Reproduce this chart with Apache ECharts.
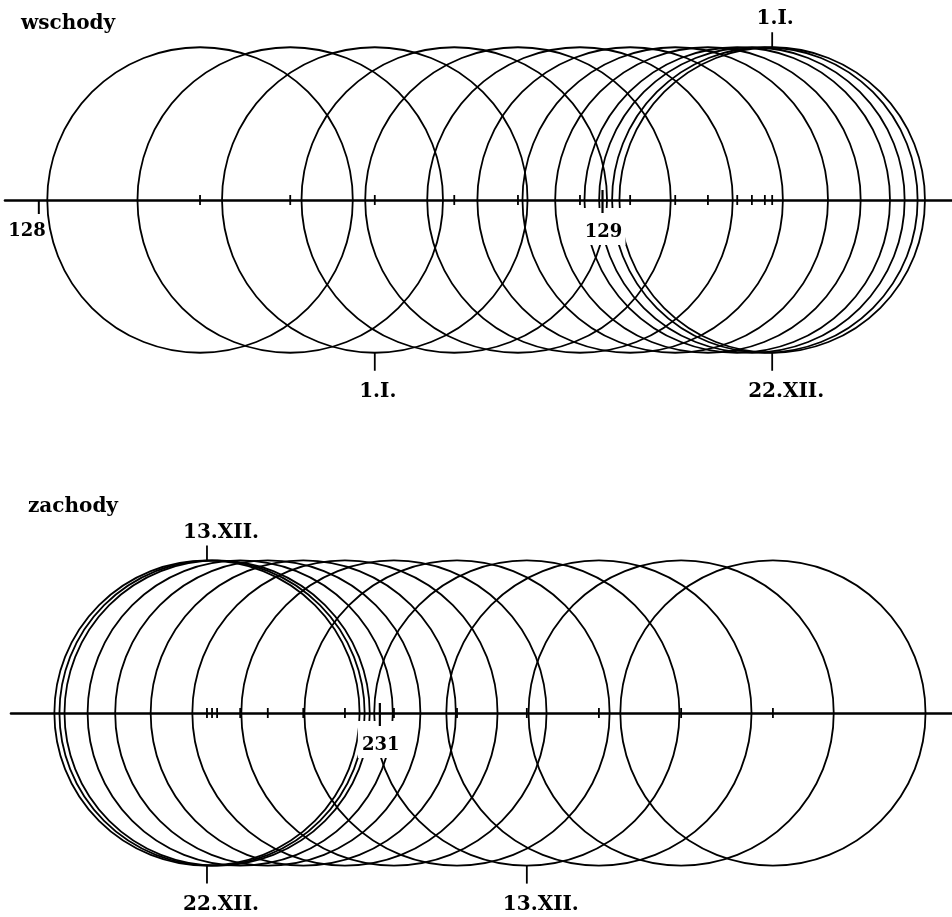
<!DOCTYPE html>
<html>
<head>
<meta charset="utf-8">
<title>wschody i zachody</title>
<script src="https://cdn.jsdelivr.net/npm/echarts@6/dist/echarts.min.js"></script>
<style>
  html, body { margin: 0; padding: 0; background: #fff; }
  #chart { width: 952px; height: 917px; }
</style>
</head>
<body>
<div id="chart"></div>
<script>
// promien tarczy Slonca (stopnie azymutu)
const sunRadius = 0.271;

// azymuty srodkow tarczy - wschody
const sunriseAzimuths = [128.286, 128.446, 128.596, 128.737, 128.850, 128.960, 129.049,
  129.129, 129.187, 129.239, 129.265, 129.288, 129.301];
// azymuty srodkow tarczy - zachody
const sunsetAzimuths = [230.693, 230.702, 230.711, 230.752, 230.801, 230.864, 230.938,
  231.025, 231.137, 231.261, 231.389, 231.535, 231.698];

// opisane stopnie na osi
const sunriseAxisValues = [128, 129];
const sunsetAxisValues = [231];

// daty przy tarczach
const sunriseDatesAbove = ['1.I.'];
const sunriseDatesAboveAz = [129.301];
const sunriseDatesBelow = ['22.XII.', '1.I.'];
const sunriseDatesBelowAz = [129.301, 128.596];
const sunsetDatesAbove = ['13.XII.'];
const sunsetDatesAboveAz = [230.693];
const sunsetDatesBelow = ['22.XII.', '13.XII.'];
const sunsetDatesBelowAz = [230.693, 231.261];

const INK = '#000';
const FONT_BIG = 'bold 20px "DejaVu Serif"';
const FONT_NUM = 'bold 18px "DejaVu Serif"';
const LW = 1.8;

const chart = echarts.init(document.getElementById('chart'));

function circleItem(params, api) {
  const c = api.coord([api.value(0), 0]);
  const r = api.size([sunRadius, 0])[0];
  return {
    type: 'group',
    children: [
      { type: 'circle', shape: { cx: c[0], cy: c[1], r: r },
        style: { fill: 'none', stroke: INK, lineWidth: LW } },
      { type: 'line', shape: { x1: c[0], y1: c[1] - 5, x2: c[0], y2: c[1] + 5 },
        style: { stroke: INK, lineWidth: LW } }
    ]
  };
}

function axisNumberItem(params, api) {
  const c = api.coord([api.value(0), 0]);
  const text = String(api.value(0));
  // stopien na poczatku osi - kreska tylko w dol, opis z lewej
  if (c[0] - params.coordSys.x < 60) {
    return {
      type: 'group',
      children: [
        { type: 'line', shape: { x1: c[0], y1: c[1], x2: c[0], y2: c[1] + 14 },
          style: { stroke: INK, lineWidth: 2 } },
        { type: 'text', x: c[0] + 7, y: c[1] + 31,
          style: { text: text, font: FONT_NUM, fill: INK, align: 'right', verticalAlign: 'middle' } }
      ]
    };
  }
  return {
    type: 'group',
    children: [
      { type: 'rect', shape: { x: c[0] - 22, y: c[1] + 8, width: 45, height: 37 },
        style: { fill: '#fff' } },
      { type: 'line', shape: { x1: c[0], y1: c[1] - 10, x2: c[0], y2: c[1] + 13 },
        style: { stroke: INK, lineWidth: 2.2 } },
      { type: 'text', x: c[0] + 1, y: c[1] + 32,
        style: { text: text, font: FONT_NUM, fill: INK, align: 'center', verticalAlign: 'middle' } }
    ]
  };
}

function makeDateItem(labels, side) {
  return function (params, api) {
    const c = api.coord([api.value(0), 0]);
    const r = api.size([sunRadius, 0])[0];
    const text = labels[params.dataIndex];
    const dir = side === 'above' ? -1 : 1;
    const y0 = c[1] + dir * r;
    const shift = text.indexOf('XII') >= 0 ? 14 : 3;
    return {
      type: 'group',
      children: [
        { type: 'line', shape: { x1: c[0], y1: y0, x2: c[0], y2: y0 + dir * (side === 'above' ? 15 : 18) },
          style: { stroke: INK, lineWidth: LW } },
        { type: 'text', x: c[0] + shift, y: y0 + dir * (side === 'above' ? 28 : 39),
          style: { text: text, font: FONT_BIG, fill: INK, align: 'center', verticalAlign: 'middle' } }
      ]
    };
  };
}

function pairs(arr) {
  return arr.map(function (v) { return [v, 0]; });
}

function customSeries(idx, data, renderItem, z) {
  return {
    type: 'custom',
    xAxisIndex: idx,
    yAxisIndex: idx,
    data: data,
    renderItem: renderItem,
    z: z,
    silent: true,
    animation: false
  };
}

const axisCommon = {
  type: 'value',
  axisLine: { onZero: true, lineStyle: { color: INK, width: 2.6 } },
  axisTick: { show: false },
  axisLabel: { show: false },
  splitLine: { show: false }
};

chart.setOption({
  backgroundColor: '#fff',
  animation: false,
  title: [
    { text: 'wschody', left: 16, top: 9,
      textStyle: { fontFamily: 'DejaVu Serif', fontWeight: 'bold', fontSize: 20, color: INK } },
    { text: 'zachody', left: 23, top: 492,
      textStyle: { fontFamily: 'DejaVu Serif', fontWeight: 'bold', fontSize: 20, color: INK } }
  ],
  grid: [
    { left: 5, right: 0, top: 30, height: 340 },
    { left: 11, right: 0, top: 543, height: 340 }
  ],
  xAxis: [
    Object.assign({ gridIndex: 0, min: 127.94, max: 129.62 }, axisCommon),
    Object.assign({ gridIndex: 1, min: 230.345, max: 232.016 }, axisCommon)
  ],
  yAxis: [
    { gridIndex: 0, type: 'value', min: -1, max: 1, show: false },
    { gridIndex: 1, type: 'value', min: -1, max: 1, show: false }
  ],
  series: [
    customSeries(0, pairs(sunriseAzimuths), circleItem, 2),
    customSeries(1, pairs(sunsetAzimuths), circleItem, 2),
    customSeries(0, pairs(sunriseAxisValues), axisNumberItem, 4),
    customSeries(1, pairs(sunsetAxisValues), axisNumberItem, 4),
    customSeries(0, pairs(sunriseDatesAboveAz), makeDateItem(sunriseDatesAbove, 'above'), 4),
    customSeries(0, pairs(sunriseDatesBelowAz), makeDateItem(sunriseDatesBelow, 'below'), 4),
    customSeries(1, pairs(sunsetDatesAboveAz), makeDateItem(sunsetDatesAbove, 'above'), 4),
    customSeries(1, pairs(sunsetDatesBelowAz), makeDateItem(sunsetDatesBelow, 'below'), 4)
  ]
});
</script>
</body>
</html>
